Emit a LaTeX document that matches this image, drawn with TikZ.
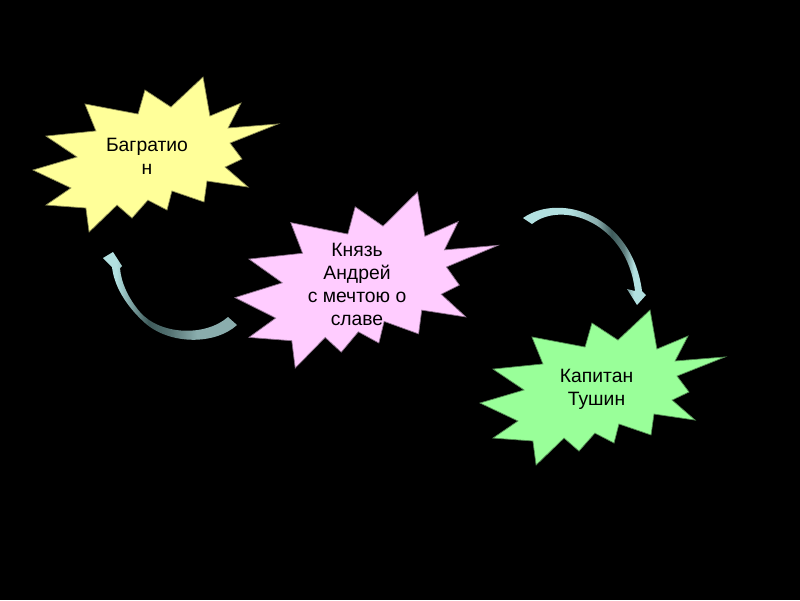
\documentclass[tikz,border=0pt]{standalone}
\usepackage{fontspec}
\setmainfont{Liberation Sans}
\definecolor{yellowc}{HTML}{FFFF99}
\definecolor{pinkc}{HTML}{FFCCFF}
\definecolor{greenc}{HTML}{99FF99}
\definecolor{cyanlight}{HTML}{B2E0E0}
\definecolor{cyanmid}{HTML}{8AADAD}
\definecolor{cyandark}{HTML}{3E5A5A}
\pgfdeclarehorizontalshading{arrowL}{100bp}{color(0bp)=(cyanlight); color(30bp)=(cyanlight); color(42bp)=(cyandark); color(50bp)=(cyandark!70!cyanmid); color(60bp)=(cyanmid); color(100bp)=(cyanmid)}
\pgfdeclarehorizontalshading{arrowR}{100bp}{color(0bp)=(cyanlight); color(44bp)=(cyanlight); color(55bp)=(cyanmid); color(61bp)=(cyandark); color(66bp)=(cyandark!60!cyanmid); color(70bp)=(cyanlight); color(100bp)=(cyanlight)}
\newcommand{\ExplosionPath}[1]{%
  \path[#1] (0.694,0) -- (0.722,0.252) -- (0.849,0.168) -- (0.796,0.329)
    -- (1,0.303) -- (0.804,0.426) -- (0.853,0.529) -- (0.784,0.581)
    -- (0.878,0.710) -- (0.710,0.671) -- (0.698,0.806) -- (0.567,0.735)
    -- (0.547,0.858) -- (0.469,0.794) -- (0.404,0.910) -- (0.343,0.826)
    -- (0.229,1) -- (0.216,0.845) -- (0.053,0.826) -- (0.155,0.716)
    -- (0,0.600) -- (0.180,0.516) -- (0.053,0.381) -- (0.257,0.348)
    -- (0.212,0.174) -- (0.429,0.239) -- (0.457,0.084) -- (0.563,0.194) -- cycle;}
\tikzset{
  lbl/.style={font=\fontsize{11}{13.2}\selectfont, align=center, inner sep=0pt, text=black},
  starline/.style={line width=0.4pt, line join=miter}
}
\begin{document}
\begin{tikzpicture}[x=0.02cm, y=-0.02cm]
\useasboundingbox (0,0) rectangle (800,600);
\fill[black] (0,0) rectangle (800,600);

% stars
\begin{scope}[shift={(33,77)}, xscale=245, yscale=155]
  \ExplosionPath{fill=yellowc, draw=yellowc!55!black, starline}
\end{scope}
\begin{scope}[shift={(235,192)}, xscale=263, yscale=176]
  \ExplosionPath{fill=pinkc, draw=pinkc!55!black, starline}
\end{scope}
\begin{scope}[shift={(480,310)}, xscale=245, yscale=155]
  \ExplosionPath{fill=greenc, draw=greenc!55!black, starline}
\end{scope}

% labels
\node[lbl] (bagration) at (147,156.4) {Багратио\\н};
\node[lbl] (andrey) at (357,284.4) {Князь\\Андрей\\с мечтою о\\славе};
\node[lbl] (tushin) at (596.5,389.7) {Капитан\\Тушин};

% curved arrow: Andrey -> Bagration
\path[shading=arrowL] (228,317) .. controls (205,337) and (160,335) .. (140,312)
  .. controls (128,298) and (121,282) .. (120,268) -- (122,266) -- (113,252)
  -- (103,258) -- (112,267) .. controls (114,285) and (125,305) .. (145,323)
  .. controls (170,345) and (215,345) .. (237,325) -- cycle;

% curved arrow: Andrey -> Tushin
\path[shading=arrowR] (523,218) .. controls (560,192) and (632,215) .. (642,291)
  -- (646,295) -- (637,305) -- (627,289) -- (635,291)
  .. controls (627,222) and (562,200) .. (532,224) -- cycle;
\end{tikzpicture}
\end{document}
